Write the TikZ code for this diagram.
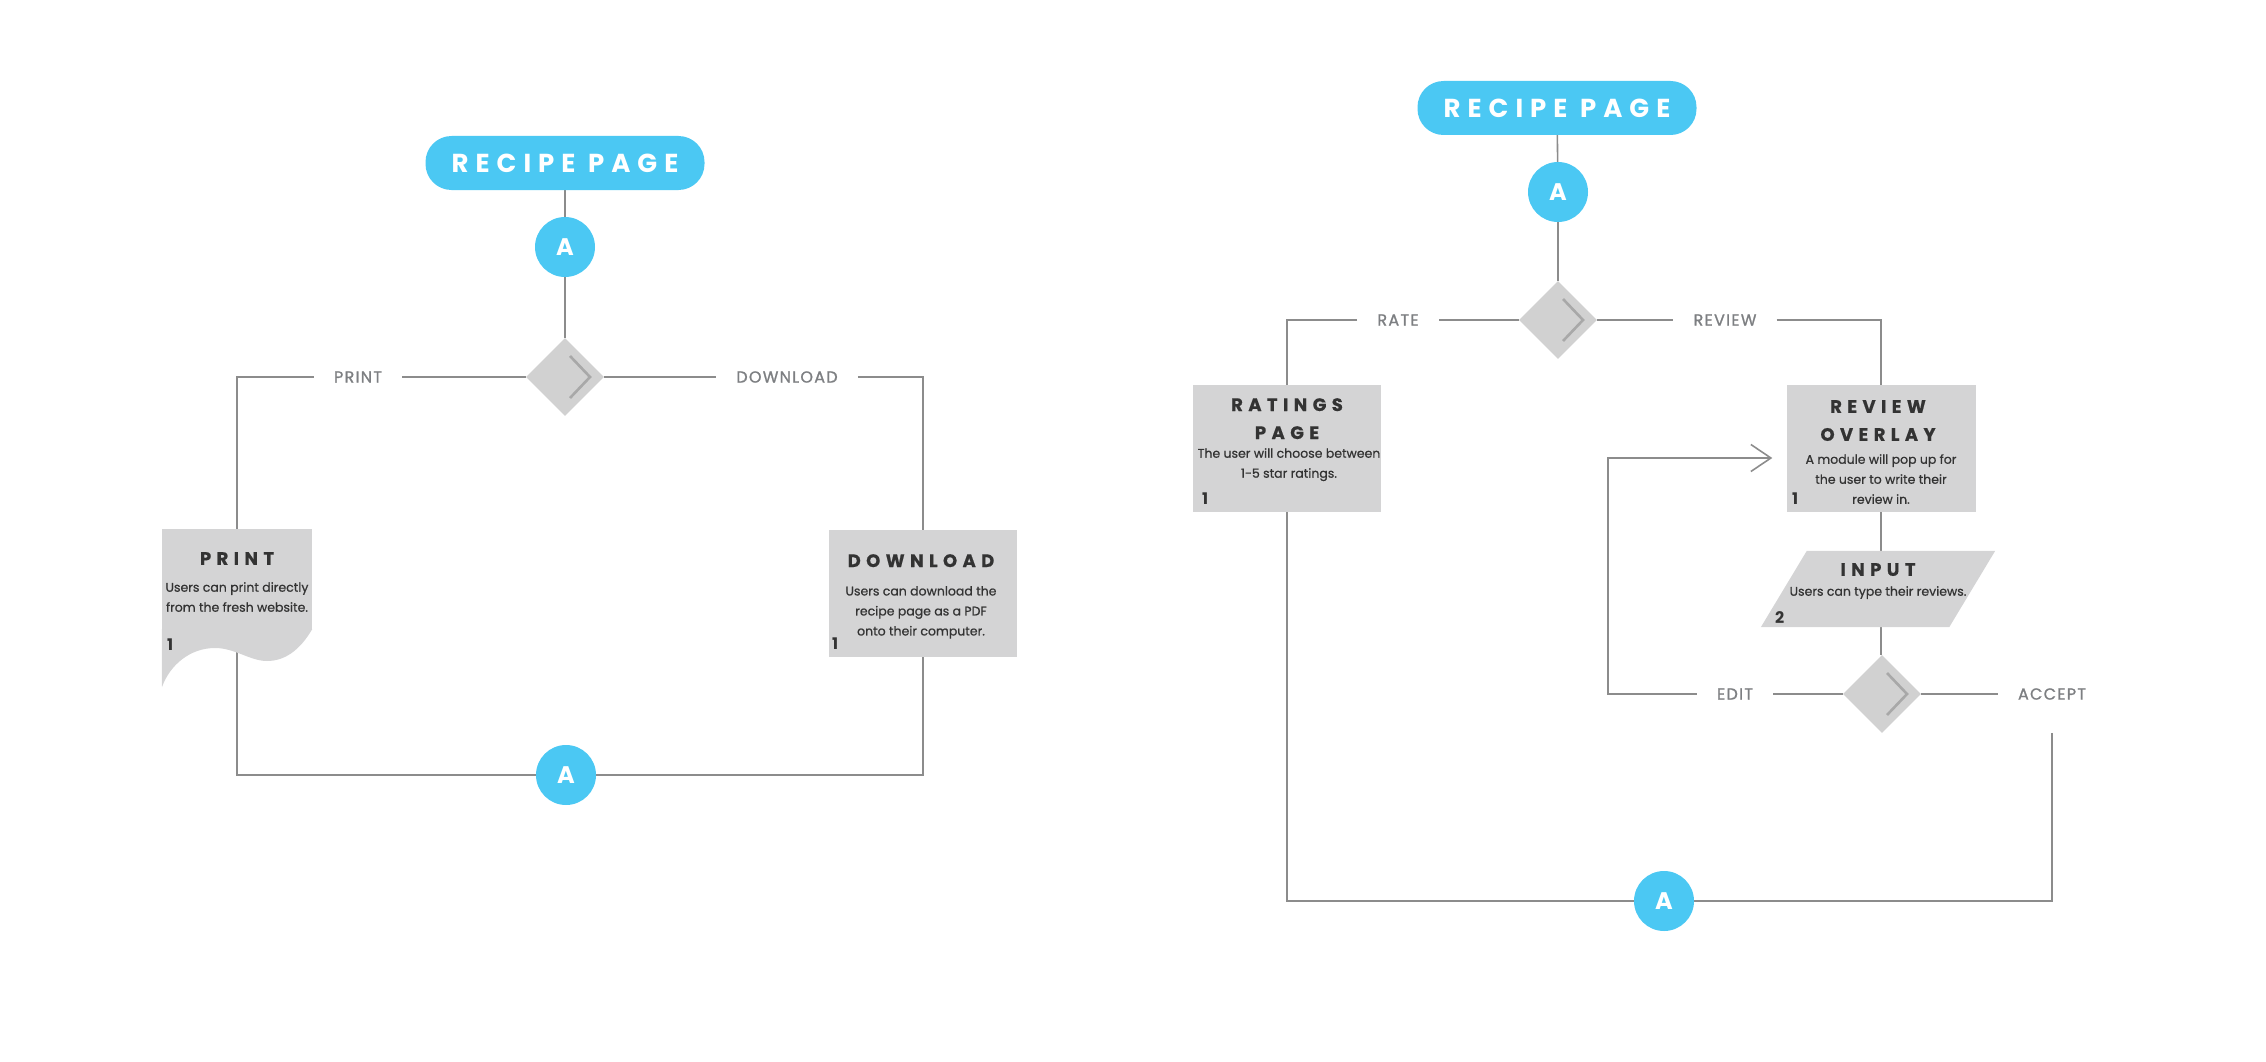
\documentclass[tikz,border=0pt]{standalone}
\usepackage{fontspec}
\setmainfont{Poppins}
\usetikzlibrary{shapes.geometric,arrows.meta,backgrounds}

\definecolor{skyblue}{HTML}{4BC8F3}
\definecolor{boxgray}{HTML}{D4D4D5}
\definecolor{diagray}{HTML}{D1D1D1}
\definecolor{wiregray}{HTML}{8C8C8C}
\definecolor{chevgray}{HTML}{A8A8A8}
\definecolor{inkdark}{HTML}{333333}
\definecolor{labelgray}{HTML}{7D7F82}

\begin{document}
\begin{tikzpicture}[x=1pt,y=-1pt,
  wire/.style={draw=wiregray,line width=1.6pt},
  pill/.style={rectangle,rounded corners=26pt,fill=skyblue,text=white,
    minimum width=279pt,minimum height=54pt,inner sep=0pt,
    font=\fontsize{26}{30}\selectfont\bfseries\addfontfeature{LetterSpace=27}},
  conn/.style={circle,fill=skyblue,text=white,minimum size=60pt,inner sep=0pt,
    font=\fontsize{24}{28}\selectfont\bfseries},
  decide/.style={diamond,fill=diagray,minimum width=78pt,minimum height=78pt,inner sep=0pt},
  chev/.style={draw=chevgray,line width=2.6pt},
  branch/.style={text=labelgray,inner xsep=20pt,inner ysep=0pt,
    font=\fontsize{16}{16}\selectfont\addfontfeature{LetterSpace=8,FakeBold=1.2}},
  card/.style={rectangle,fill=boxgray,inner sep=0pt},
  cardtitle/.style={anchor=north,inner sep=0pt,text=inkdark,align=center,
    font=\fontsize{18}{28}\selectfont\bfseries\addfontfeature{LetterSpace=30,FakeBold=0.6}},
  cardtext/.style={anchor=north,inner sep=0pt,text=inkdark,align=center,
    font=\fontsize{12.5}{20}\selectfont\addfontfeature{FakeBold=0.7}},
  cardnum/.style={anchor=base west,inner sep=0pt,text=inkdark,
    font=\fontsize{16}{16}\selectfont\bfseries}]
  \useasboundingbox (0,0) rectangle (2266,1062);

  % left flow: print or download
  \node[pill] (lrecipe) at (565,163) {RECIPE PAGE};
  \node[conn] (latop) at (565,247) {A};
  \node[decide] (ldec) at (565,377) {};
  \node[branch] (lprint) at (358,377) {PRINT};
  \node[branch] (ldown) at (787,377) {DOWNLOAD};

  \node[card,minimum width=150,minimum height=101] (printdoc) at (237,579.5) {};
  \fill[boxgray] ([yshift=1]printdoc.south east) .. controls (300,650) and (285,661) .. (267,661)
    .. controls (250,661) and (235,648) .. (215,648)
    .. controls (190,648) and (170,665) .. (162,687) -- ([yshift=1]printdoc.south west) -- cycle;
  \node[cardtitle] (printttl) at (237,552) {PRINT};
  \node[cardtext] (printtxt) at (237,582) {Users can print directly\\from the fresh website.};
  \node[cardnum] (printnum) at (167,650) {1};

  \node[card,minimum width=188,minimum height=127] (dlcard) at (923,593.5) {};
  \node[cardtitle] (dlttl) at (921,554) {DOWNLOAD};
  \node[cardtext] (dltxt) at (921,586) {Users can download the\\recipe page as a PDF\\onto their computer.};
  \node[cardnum] (dlnum) at (832,649) {1};

  \node[conn] (labot) at (566,775) {A};

  % right flow: rate or review
  \node[pill] (rrecipe) at (1557,108) {RECIPE PAGE};
  \node[conn] (ratop) at (1558,192) {A};
  \node[decide] (rdec) at (1558,320) {};
  \node[branch] (rrate) at (1398,320) {RATE};
  \node[branch] (rreview) at (1725,320) {REVIEW};

  \node[card,minimum width=188,minimum height=127] (ratecard) at (1287,448.5) {};
  \node[cardtitle] (ratettl) at (1287,398) {RATINGS\\PAGE};
  \node[cardtext] (ratetxt) at (1289,448) {The user will choose between\\1-5 star ratings.};
  \node[cardnum] (ratenum) at (1202,504) {1};

  \node[card,minimum width=189,minimum height=127] (ovcard) at (1881,448.5) {};
  \node[cardtitle] (ovttl) at (1878,400) {REVIEW\\OVERLAY};
  \node[cardtext] (ovtxt) at (1881,454) {A module will pop up for\\the user to write their\\review in.};
  \node[cardnum] (ovnum) at (1792,504) {1};

  % input: slanted card
  \node[inner sep=0pt,minimum width=188,minimum height=76] (incard) at (1878,589) {};
  \fill[boxgray] ([xshift=23]incard.north west) -- ([xshift=23]incard.north east)
    -- ([xshift=-23]incard.south east) -- ([xshift=-23]incard.south west) -- cycle;
  \node[cardtitle] (inttl) at (1878,563) {INPUT};
  \node[cardtext] (intxt) at (1878,586) {Users can type their reviews.};
  \node[cardnum] (innum) at (1775,623) {2};

  \node[decide] (edec) at (1882,694) {};
  \node[branch] (redit) at (1735,694) {EDIT};
  \node[branch] (raccept) at (2052,694) {ACCEPT};
  \coordinate (loopc) at (1608,458);

  \node[conn] (rabot) at (1664,901) {A};

  \foreach \d in {ldec,rdec,edec}
    \draw[chev] ([shift={(5,-21)}]\d.center) -- ([shift={(25,0)}]\d.center) -- ([shift={(5,21)}]\d.center);

  \begin{scope}[on background layer]
    \draw[wire] (lrecipe) -- (latop) -- (ldec);
    \draw[wire] (ldec.west) -- (lprint.east);
    \draw[wire] (lprint.west) -| (printdoc.north);
    \draw[wire] (ldec.east) -- (ldown.west);
    \draw[wire] (ldown.east) -| (dlcard.north);
    \draw[wire] (printdoc.south) |- (labot.west);
    \draw[wire] (dlcard.south) |- (labot.east);

    \draw[wire] (rrecipe) -- (ratop) -- (rdec);
    \draw[wire] (rdec.west) -- (rrate.east);
    \draw[wire] (rrate.west) -| (ratecard.north);
    \draw[wire] (rdec.east) -- (rreview.west);
    \draw[wire] (rreview.east) -| (ovcard.north);
    \draw[wire] (ovcard.south) -- (ovcard.south |- edec.north);
    \draw[wire] (edec.west) -- (redit.east);
    \draw[wire,shorten >=14pt,-{Straight Barb[length=20pt,width=27pt]}]
      (redit.west) -| (loopc) -- (loopc -| ovcard.west);
    \draw[wire] (edec.east) -- (raccept.west);
    \draw[wire,shorten <=33pt] (raccept.south) |- (rabot.east);
    \draw[wire] (ratecard.south) |- (rabot.west);
  \end{scope}
\end{tikzpicture}
\end{document}
